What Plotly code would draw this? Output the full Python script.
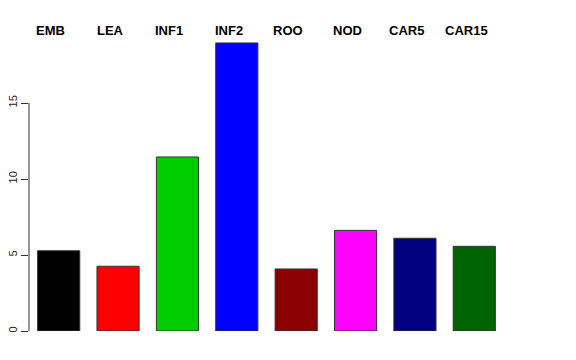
import plotly.graph_objects as go

categories = ["EMB", "LEA", "INF1", "INF2", "ROO", "NOD", "CAR5", "CAR15"]
values = [5.28, 4.26, 11.45, 18.95, 4.08, 6.62, 6.1, 5.57]
colors = ["#000000", "#FF0000", "#00CD00", "#0000FF", "#8B0000", "#FF00FF", "#000080", "#006400"]
y_ticks = [0, 5, 10, 15]

positions = list(range(len(categories)))

fig = go.Figure()
fig.add_trace(go.Bar(
    x=positions, y=values, width=0.71,
    marker=dict(color=colors, line=dict(color="#333333", width=1)),
    hoverinfo="skip", showlegend=False,
))

for i, c in enumerate(categories):
    fig.add_annotation(
        x=i, y=0.99, xref="x", yref="paper", text=c, showarrow=False,
        xshift=-8, yanchor="middle", xanchor="center",
        font=dict(family="Liberation Sans", size=13, color="black", weight="bold"),
    )

fig.add_shape(type="line", xref="paper", yref="y", x0=0, x1=0, y0=0, y1=15,
              line=dict(color="#333333", width=1))

fig.update_layout(
    width=576, height=360,
    margin=dict(l=21, r=80, t=19, b=37),
    plot_bgcolor="white", paper_bgcolor="white",
    font=dict(family="Liberation Sans", color="black"),
    xaxis=dict(range=[-0.5, 7.5], visible=False, automargin=False),
    yaxis=dict(range=[0, 20], tickvals=y_ticks, ticks="outside", ticklen=7,
               tickcolor="#333333", tickangle=-90, showgrid=False, zeroline=False,
               showline=False, automargin=False,
               tickfont=dict(size=11, family="Liberation Sans", color="#222222")),
)

fig.write_html("out.html")
